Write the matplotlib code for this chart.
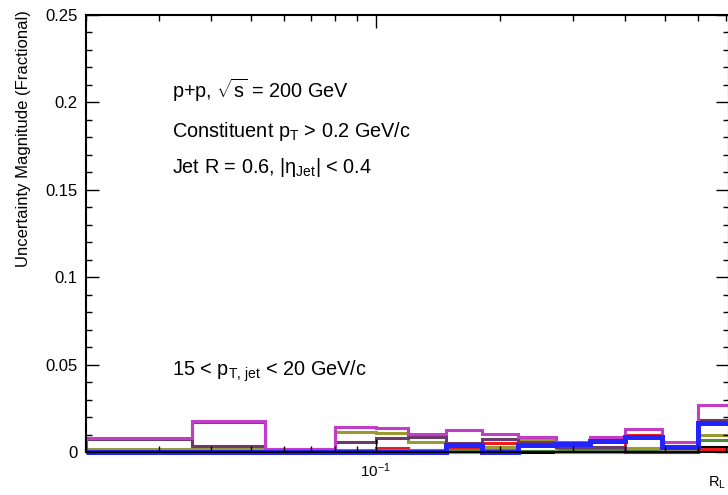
import matplotlib
matplotlib.use("Agg")
import matplotlib.pyplot as plt
from matplotlib.ticker import MultipleLocator, LogLocator, NullFormatter, FuncFormatter

plt.rcParams['font.family'] = ['Liberation Sans', 'DejaVu Sans']
plt.rcParams['mathtext.fontset'] = 'custom'
plt.rcParams['mathtext.rm'] = 'Liberation Sans'
plt.rcParams['mathtext.it'] = 'Liberation Sans'
plt.rcParams['mathtext.bf'] = 'Liberation Sans:bold'

# bin edges in R_L (log binning)
edges = [0.02, 0.036, 0.054, 0.08, 0.1, 0.12, 0.148, 0.181, 0.221, 0.272, 0.33, 0.4, 0.49, 0.6, 0.73]

# uncertainty sources (fractional), one list per histogram
black_vals   = [0.0000, 0.0000, 0.0000, 0.0000, 0.0000, 0.0000, 0.0000, 0.0000, 0.0000, 0.0000, 0.0000, 0.0000, 0.0000, 0.0030]
red_vals     = [0.0005, 0.0171, 0.0005, 0.0005, 0.0021, 0.0012, 0.0030, 0.0052, 0.0005, 0.0005, 0.0005, 0.0098, 0.0005, 0.0015]
green_vals   = [0.0005, 0.0005, 0.0005, 0.0010, 0.0010, 0.0010, 0.0010, 0.0010, 0.0003, 0.0020, 0.0012, 0.0018, 0.0010, 0.0069]
olive_vals   = [0.0015, 0.0017, 0.0008, 0.0116, 0.0107, 0.0060, 0.0000, 0.0030, 0.0069, 0.0000, 0.0000, 0.0025, 0.0010, 0.0097]
purple_vals  = [0.0075, 0.0035, 0.0015, 0.0060, 0.0078, 0.0086, 0.0050, 0.0073, 0.0060, 0.0030, 0.0030, 0.0000, 0.0000, 0.0183]
magenta_vals = [0.0080, 0.0176, 0.0020, 0.0145, 0.0135, 0.0102, 0.0128, 0.0102, 0.0088, 0.0060, 0.0088, 0.0130, 0.0055, 0.0267]
blue_vals    = [0.0000, 0.0000, 0.0000, 0.0000, 0.0000, 0.0000, 0.0040, 0.0000, 0.0040, 0.0045, 0.0065, 0.0085, 0.0030, 0.0165]

fig = plt.figure(figsize=(7.28, 4.95), dpi=100)
W, H = 728.0, 495.0
ax = fig.add_axes([86 / W, 1 - 452 / H, (729 - 86) / W, (452 - 15) / H])

# ROOT draws the outlines unclipped, so the zero-level lines sit on the axis
ax.stairs(black_vals, edges, color='black', lw=2.2, clip_on=False)
ax.stairs(red_vals, edges, color='#f01a1a', lw=2.2, clip_on=False)
ax.stairs(green_vals, edges, color='#4a8c35', lw=2.2, clip_on=False)
ax.stairs(olive_vals, edges, color='#9a9a30', lw=2.2, clip_on=False)
ax.stairs(purple_vals, edges, color='#6a3a6a', lw=2.2, clip_on=False)
ax.stairs(magenta_vals, edges, color='#c33cc8', lw=2.2, clip_on=False)
ax.stairs(blue_vals, edges, color='#2323ff', lw=3.6, clip_on=False)

ax.set_xscale('log')
ax.set_xlim(0.02, 0.713)
ax.set_ylim(0, 0.25)

ax.yaxis.set_major_locator(MultipleLocator(0.05))
ax.yaxis.set_minor_locator(MultipleLocator(0.01))
ax.yaxis.set_major_formatter(FuncFormatter(lambda v, p: '%g' % round(v, 3)))
ax.xaxis.set_major_locator(LogLocator(base=10))
ax.xaxis.set_minor_locator(LogLocator(base=10, subs=range(2, 10)))
ax.xaxis.set_minor_formatter(NullFormatter())

ax.tick_params(which='both', direction='in', top=True, right=True, width=1.0)
ax.tick_params(which='major', length=9.5)
ax.tick_params(which='minor', length=4.5)
ax.tick_params(axis='y', pad=6, labelsize=12)
ax.tick_params(axis='x', pad=7, labelsize=11)
for s in ax.spines.values():
    s.set_linewidth(1.5)

# ROOT style axis titles
fig.text(24 / W, 1 - 10 / H, 'Uncertainty Magnitude (Fractional)', rotation=90,
         ha='center', va='top', fontsize=12)
fig.text(726 / W, 1 - 487 / H, 'R$_{L}$', ha='right', va='baseline', fontsize=10.5)

fs = 14.3
fig.text(172 / W, 1 - 98 / H, r'p+p, $\sqrt{s}$ = 200 GeV', ha='left', va='baseline', fontsize=fs)
fig.text(172 / W, 1 - 137 / H, r'Constituent p$_{T}$ > 0.2 GeV/c', ha='left', va='baseline', fontsize=fs)
fig.text(172 / W, 1 - 173 / H, r'Jet R = 0.6, |$\eta_{Jet}$| < 0.4', ha='left', va='baseline', fontsize=fs)
fig.text(172 / W, 1 - 376 / H, r'15 < p$_{T,\,jet}$ < 20 GeV/c', ha='left', va='baseline', fontsize=fs)

fig.savefig('out.png', dpi=100)
